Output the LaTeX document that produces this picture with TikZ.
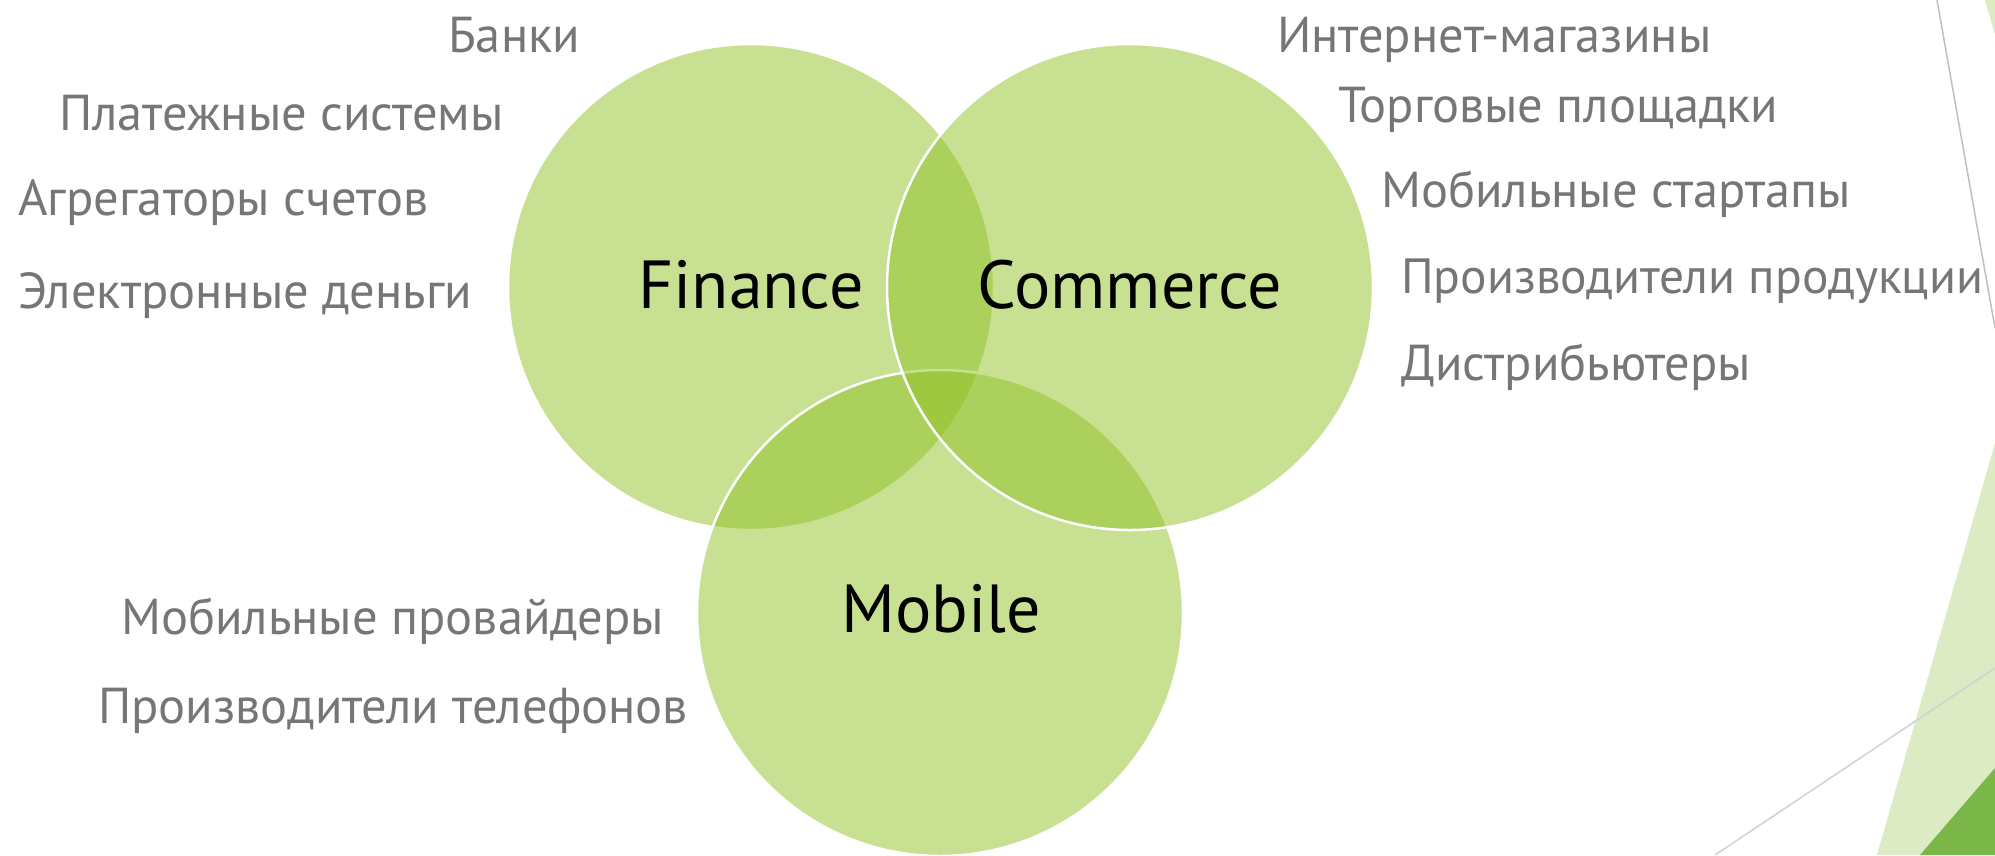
\documentclass[tikz,border=0pt]{standalone}
\usepackage{fontspec}
\setmainfont{PT Sans}
\definecolor{facet}{HTML}{90C226}
\definecolor{palegreen}{HTML}{DDEBC4}
\definecolor{darkgreen}{HTML}{7AB648}
\definecolor{labelgray}{HTML}{767676}
\tikzset{
  venn/.style={circle, minimum size=486pt, inner sep=0pt, fill=facet, fill opacity=0.5, draw=white, line width=2.5pt},
  item/.style={anchor=base west, inner sep=0pt, text=labelgray, font=\fontsize{50.5}{53}\selectfont},
  big/.style={anchor=base, inner sep=0pt, text=black, font=\fontsize{68}{70}\selectfont},
  deco/.style={draw=#1, line width=1.5pt}
}
\begin{document}
\begin{tikzpicture}[x=1pt,y=-1pt]
\useasboundingbox (0,0) rectangle (1995,855);
\fill[white] (0,0) rectangle (1995,855);
% decorative shapes on the right
\fill[palegreen] (1985,0) -- (1995,0) -- (1995,35) -- cycle;
\fill[palegreen] (1995,443) -- (1877,855) -- (1995,855) -- cycle;
\fill[darkgreen] (1995,768) -- (1920,855) -- (1995,855) -- cycle;
\coordinate (ta) at (1937,0);
\coordinate (tb) at (1995,328);
\coordinate (ba) at (1715,855);
\coordinate (bb) at (1995,668);
\draw[deco=black!25] (ta) -- (tb);
\draw[deco=black!18] (ba) -- (bb);
% circles
\node[venn] (fin) at (751,287) {};
\node[venn] (mob) at (940,613) {};
\node[venn] (com) at (1130,287) {};
% circle labels
\node[big] (lfin) at (751,308) {Finance};
\node[big] (lcom) at (1130,308) {Commerce};
\node[big] (lmob) at (941,632) {Mobile};
% finance items
\node[item] (f1) at (448,52) {Банки};
\node[item] (f2) at (59,130) {Платежные системы};
\node[item] (f3) at (18,215) {Агрегаторы счетов};
\node[item] (f4) at (18,308) {Электронные деньги};
% commerce items
\node[item] (c1) at (1277,52) {Интернет-магазины};
\node[item] (c2) at (1338,122) {Торговые площадки};
\node[item] (c3) at (1381,207) {Мобильные стартапы};
\node[item, font=\fontsize{49.5}{52}\selectfont] (c4) at (1401,293) {Производители продукции};
\node[item] (c5) at (1401,380) {Дистрибьютеры};
% mobile items
\node[item] (m1) at (121,634) {Мобильные провайдеры};
\node[item] (m2) at (98,723) {Производители телефонов};
\end{tikzpicture}
\end{document}
